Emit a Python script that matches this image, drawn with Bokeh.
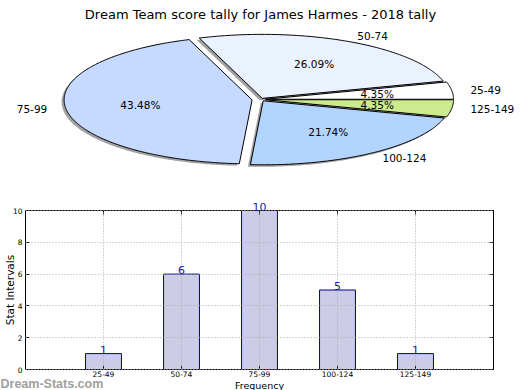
import numpy as np
from bokeh.plotting import figure
from bokeh.models import (Range1d, Label, LabelSet, ColumnDataSource, FixedTicker,
                          LinearAxis, Grid)
from bokeh.layouts import column
from bokeh.core.properties import value
from bokeh.embed import file_html
from bokeh.resources import INLINE

# ---------------- data ----------------
categories = ["25-49", "50-74", "75-99", "100-124", "125-149"]
counts = [1, 6, 10, 5, 1]
slice_colors = ["#FFFFFF", "#EBF2FF", "#C6D9FF", "#B3D4FF", "#CCEB8C"]
explode = [0.027, 0.02, 0.045, 0.025, 0.027]
y_ticks = [0, 2, 4, 6, 8, 10]
chart_title = "Dream Team score tally for James Harmes - 2018 tally"
y_label = "Stat Intervals"
x_label = "Frequency"
watermark = "Dream-Stats.com"

FONT = "DejaVu Sans"
W = 520
PIE_H = 196
BAR_H = 194

# ---------------- pie (pixel coordinates) ----------------
CX, CY, RX, RY = 260.0, 99.0, 188.0, 64.0

pie = figure(width=W, height=PIE_H, x_range=Range1d(0, W), y_range=Range1d(PIE_H, 0),
             output_backend="svg", toolbar_location=None, title=None,
             x_axis_location=None, y_axis_location=None, min_border=0)
pie.grid.visible = False
pie.outline_line_color = None

total = float(sum(counts))
fracs = np.array(counts) / total
edges = np.concatenate([[0.0], np.cumsum(fracs)]) * 2 * np.pi

xs, ys, sxs, sys_ = [], [], [], []
lab_x, lab_y, lab_align = [], [], []
pct_x, pct_y, pct_txt = [], [], []
for i in range(len(counts)):
    a0, a1 = edges[i], edges[i + 1]
    m = 0.5 * (a0 + a1)
    ox = CX + explode[i] * RX * np.cos(m)
    oy = CY - explode[i] * RY * np.sin(m)
    t = np.linspace(a0, a1, max(int((a1 - a0) * 80), 6))
    px = np.concatenate([[ox], ox + RX * np.cos(t)])
    py = np.concatenate([[oy], oy - RY * np.sin(t)])
    xs.append(list(px)); ys.append(list(py))
    sxs.append(list(px - 2.5)); sys_.append(list(py + 2.0))
    lab_x.append(ox + 1.1 * RX * np.cos(m))
    lab_y.append(oy - 1.1 * RY * np.sin(m))
    lab_align.append("left" if np.cos(m) > 0 else "right")
    pct_x.append(ox + 0.6 * RX * np.cos(m))
    pct_y.append(oy - 0.6 * RY * np.sin(m))
    pct_txt.append("%.2f%%" % (fracs[i] * 100))

pie.patches(xs=sxs, ys=sys_, fill_color="#555555", fill_alpha=0.55, line_color=None)
pie.patches(xs=xs, ys=ys, fill_color=slice_colors, line_color="black", line_width=1)
pie.text(x=lab_x, y=lab_y, text=categories, text_align=lab_align, text_baseline="middle",
         text_font=value(FONT), text_font_size="10.5px", text_color="black")
pie.text(x=pct_x, y=pct_y, text=pct_txt, text_align="center", text_baseline="middle",
         text_font=value(FONT), text_font_size="10.5px", text_color="black")
pie.add_layout(Label(x=CX, y=14, text=chart_title, text_align="center",
                     text_baseline="alphabetic", text_font=FONT, text_font_size="13px",
                     text_color="black"))

# ---------------- bar chart ----------------
# plot box position inside the bar canvas (pixels, page coordinates)
PL, PR, PT, PB = 25.0, 493.0, 210.0, 369.0
TOP0 = PIE_H
NX = len(categories) + 1
YMAX = 10.0
sx = (PR - PL) / NX
sy = (PB - PT) / YMAX

def px2x(p):
    return (p - PL) / sx

def py2y(p):
    return (PB - p) / sy

bar = figure(width=W, height=BAR_H,
             x_range=Range1d(px2x(0), px2x(W)), y_range=Range1d(py2y(TOP0 + BAR_H), py2y(TOP0)),
             output_backend="svg", toolbar_location=None, title=None, min_border=0)
bar.outline_line_color = None

xpos = list(range(1, len(categories) + 1))
src = ColumnDataSource(dict(x=xpos, top=counts, lab=[str(c) for c in counts]))
bar.vbar(x="x", top="top", width=0.46, bottom=0, source=src,
         fill_color="#CCCCE6", line_color="#000080", line_width=1)

bar.add_layout(LabelSet(x="x", y="top", text="lab", source=src, text_align="center",
                        text_baseline="alphabetic", text_font=value(FONT),
                        text_font_size="11px", text_color="#202090"))

# axes fixed on the plot box
bar.xaxis.fixed_location = 0
bar.yaxis.fixed_location = 0
bar.xaxis.bounds = (0, NX)
bar.yaxis.bounds = (0, YMAX)
bar.xaxis.ticker = FixedTicker(ticks=xpos)
bar.xaxis.major_label_overrides = {x: c for x, c in zip(xpos, categories)}
bar.yaxis.ticker = FixedTicker(ticks=y_ticks)

right_ax = LinearAxis(fixed_location=NX, bounds=(0, YMAX), ticker=FixedTicker(ticks=y_ticks),
                      major_label_overrides={t: "" for t in y_ticks})
top_ax = LinearAxis(fixed_location=YMAX, bounds=(0, NX), ticker=FixedTicker(ticks=xpos),
                    major_label_overrides={t: "" for t in xpos})
bar.add_layout(right_ax, "right")
bar.add_layout(top_ax, "above")

for ax in bar.axis:
    ax.major_label_text_font = FONT
    ax.major_label_text_font_size = "7.5px"
    ax.major_label_text_color = "black"
    ax.major_tick_in = 4
    ax.major_tick_out = 0
    ax.minor_tick_line_color = None
    ax.axis_line_color = "black"
    ax.axis_line_width = 1
    ax.major_tick_line_color = "black"
    ax.major_label_standoff = 3
bar.xaxis.major_label_standoff = 1

for g in bar.grid:
    g.grid_line_color = "#AAAAAA"
    g.grid_line_dash = "1 2"
    g.grid_line_width = 1
    g.level = "annotation"
if "cross_bounds" in Grid.properties():
    bar.xgrid.cross_bounds = (0, YMAX)
    bar.ygrid.cross_bounds = (0, NX)
    bar.xgrid.bounds = (0, NX)
    bar.ygrid.bounds = (0, YMAX)

bar.add_layout(Label(x=px2x(9), y=YMAX / 2, text=y_label, angle=np.pi / 2,
                     text_align="center", text_baseline="alphabetic",
                     text_font=FONT, text_font_size="10.5px", text_color="black"))
bar.add_layout(Label(x=NX / 2, y=py2y(384.5), text=x_label, text_align="center",
                     text_baseline="alphabetic", text_font=FONT, text_font_size="9.5px",
                     text_color="black"))
bar.add_layout(Label(x=px2x(0), y=py2y(383.5), text=watermark, text_align="left",
                     text_baseline="alphabetic", text_font="Liberation Sans",
                     text_font_size="12.5px", text_font_style="bold",
                     text_color="#A0A0A0", level="underlay"))

layout = column(pie, bar, spacing=0)
open("out.html", "w").write(file_html(layout, INLINE))
